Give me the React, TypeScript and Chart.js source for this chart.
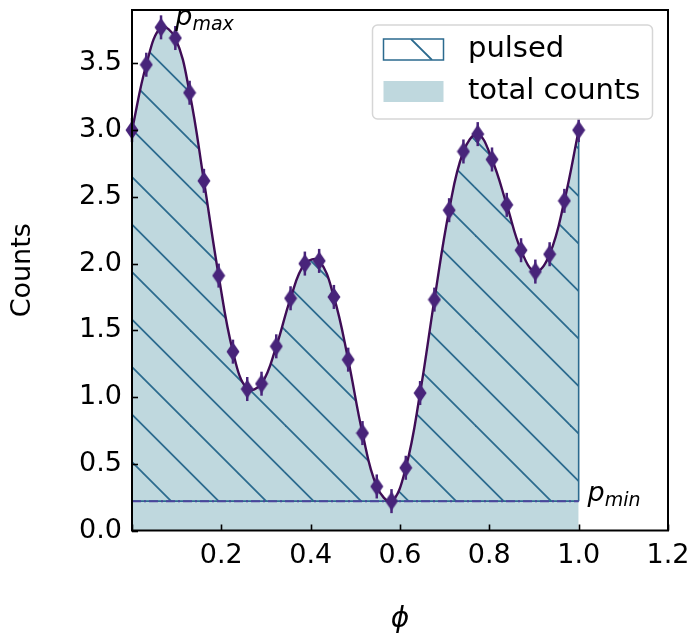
import { useEffect, useRef } from "react";
import { Chart, registerables } from "chart.js";

Chart.register(...registerables);

// ---------- data ----------
const PHASE = [
  0.0, 0.032, 0.065, 0.097, 0.129, 0.161, 0.194, 0.226, 0.258, 0.29, 0.323, 0.355,
  0.387, 0.419, 0.452, 0.484, 0.516, 0.548, 0.581, 0.613, 0.645, 0.677, 0.71, 0.742,
  0.774, 0.806, 0.839, 0.871, 0.903, 0.935, 0.968, 1.0,
];
const COUNTS = [
  3.0, 3.49, 3.77, 3.69, 3.28, 2.62, 1.91, 1.34, 1.06, 1.1, 1.38, 1.74, 2.0, 2.02,
  1.75, 1.28, 0.73, 0.33, 0.22, 0.47, 1.03, 1.73, 2.4, 2.84, 2.97, 2.78, 2.44, 2.1,
  1.94, 2.07, 2.47, 3.0,
];
const ERRORS = [
  0.09, 0.09, 0.09, 0.09, 0.09, 0.09, 0.09, 0.09, 0.09, 0.09, 0.09, 0.09, 0.09, 0.09,
  0.09, 0.09, 0.09, 0.09, 0.09, 0.09, 0.09, 0.09, 0.09, 0.09, 0.09, 0.09, 0.09, 0.09,
  0.09, 0.09, 0.09, 0.09,
];
const PMIN = 0.22;
const PMAX_LABEL_AT = { x: 0.097, y: 3.79 };
const PMIN_LABEL_AT = { x: 1.02, y: PMIN };
const X_TICKS = [0, 0.2, 0.4, 0.6, 0.8, 1.0, 1.2];
const X_TICK_LABELS = ["", "0.2", "0.4", "0.6", "0.8", "1.0", "1.2"];
const Y_TICKS = [0, 0.5, 1.0, 1.5, 2.0, 2.5, 3.0, 3.5];
const Y_TICK_LABELS = ["0.0", "0.5", "1.0", "1.5", "2.0", "2.5", "3.0", "3.5"];
const LEGEND_LABELS = ["pulsed", "total counts"];

// ---------- styles ----------
const FONT = "DejaVu Sans";
const FILL_COLOR = "#bfd8de";
const HATCH_COLOR = "#2b6a8e";
const CURVE_COLOR = "#3f0d56";
const MARKER_COLOR = "#48247a";
const PMIN_LINE_COLOR = "#4a449c";

function makeHatch(ctx: CanvasRenderingContext2D) {
  const T = 95;
  const step = 47.5;
  const c0 = 2.5;
  const cv = document.createElement("canvas");
  cv.width = T;
  cv.height = T;
  const g = cv.getContext("2d")!;
  g.strokeStyle = HATCH_COLOR;
  g.lineWidth = 1.8;
  for (let k = -5; k <= 4; k++) {
    const c = c0 + k * step;
    g.beginPath();
    g.moveTo(c - 5, -5);
    g.lineTo(c + T + 5, T + 5);
    g.stroke();
  }
  return ctx.createPattern(cv, "repeat")!;
}

function makeDiamond() {
  const cv = document.createElement("canvas");
  cv.width = 14;
  cv.height = 20;
  const g = cv.getContext("2d")!;
  g.fillStyle = MARKER_COLOR;
  g.beginPath();
  g.moveTo(7, 0.5);
  g.lineTo(13.5, 10);
  g.lineTo(7, 19.5);
  g.lineTo(0.5, 10);
  g.closePath();
  g.fill();
  return cv;
}

const decor = {
  id: "decor",
  beforeDatasetDraw(chart: any, args: any) {
    if (args.index !== 0) return;
    const { ctx, scales } = chart;
    const xs = scales.x;
    const ys = scales.y;
    ctx.save();
    ctx.strokeStyle = MARKER_COLOR;
    ctx.lineWidth = 2.5;
    PHASE.forEach((p, i) => {
      const px = xs.getPixelForValue(p);
      ctx.beginPath();
      ctx.moveTo(px, ys.getPixelForValue(COUNTS[i] - ERRORS[i]));
      ctx.lineTo(px, ys.getPixelForValue(COUNTS[i] + ERRORS[i]));
      ctx.stroke();
    });
    ctx.restore();
  },
  afterDraw(chart: any) {
    const { ctx, chartArea: a, scales } = chart;
    const xs = scales.x;
    const ys = scales.y;
    ctx.save();
    // inward ticks
    ctx.strokeStyle = "#000";
    ctx.lineWidth = 1.6;
    X_TICKS.forEach((v) => {
      const px = Math.round(xs.getPixelForValue(v)) + 0.5;
      ctx.beginPath();
      ctx.moveTo(px, a.bottom);
      ctx.lineTo(px, a.bottom - 6);
      ctx.stroke();
    });
    Y_TICKS.forEach((v) => {
      const py = Math.round(ys.getPixelForValue(v)) + 0.5;
      ctx.beginPath();
      ctx.moveTo(a.left, py);
      ctx.lineTo(a.left + 6, py);
      ctx.stroke();
    });
    // frame
    ctx.lineWidth = 2;
    ctx.strokeRect(a.left, a.top, a.right - a.left, a.bottom - a.top);

    // annotations
    ctx.fillStyle = "#000";
    ctx.textBaseline = "alphabetic";
    ctx.textAlign = "left";
    const drawP = (x: number, y: number, sub: string) => {
      ctx.font = `italic 27px "${FONT}"`;
      ctx.fillText("p", x, y);
      const w = ctx.measureText("p").width;
      ctx.font = `italic 19px "${FONT}"`;
      ctx.fillText(sub, x + w, y + 5);
    };
    drawP(xs.getPixelForValue(PMAX_LABEL_AT.x), ys.getPixelForValue(PMAX_LABEL_AT.y), "max");
    drawP(xs.getPixelForValue(PMIN_LABEL_AT.x), ys.getPixelForValue(PMIN_LABEL_AT.y), "min");

    // legend
    const lx = 372.5, ly = 25, lw = 280, lh = 94, r = 5;
    ctx.beginPath();
    ctx.moveTo(lx + r, ly);
    ctx.arcTo(lx + lw, ly, lx + lw, ly + lh, r);
    ctx.arcTo(lx + lw, ly + lh, lx, ly + lh, r);
    ctx.arcTo(lx, ly + lh, lx, ly, r);
    ctx.arcTo(lx, ly, lx + lw, ly, r);
    ctx.closePath();
    ctx.fillStyle = "rgba(255,255,255,0.85)";
    ctx.fill();
    ctx.strokeStyle = "#d6d6d6";
    ctx.lineWidth = 1.5;
    ctx.stroke();
    // pulsed patch
    const px0 = 383.5, pw = 60, ph = 21;
    ctx.fillStyle = "#fff";
    ctx.fillRect(px0, 39, pw, ph);
    ctx.save();
    ctx.beginPath();
    ctx.rect(px0, 39, pw, ph);
    ctx.clip();
    ctx.strokeStyle = HATCH_COLOR;
    ctx.lineWidth = 1.8;
    ctx.beginPath();
    ctx.moveTo(411, 39);
    ctx.lineTo(432, 60);
    ctx.stroke();
    ctx.restore();
    ctx.strokeStyle = HATCH_COLOR;
    ctx.lineWidth = 1.5;
    ctx.strokeRect(px0, 39, pw, ph);
    // total patch
    ctx.fillStyle = FILL_COLOR;
    ctx.fillRect(px0, 81, pw, ph);
    ctx.fillStyle = "#000";
    ctx.font = `29px "${FONT}"`;
    ctx.textBaseline = "middle";
    ctx.fillText(LEGEND_LABELS[0], 468, 49);
    ctx.fillText(LEGEND_LABELS[1], 468, 91);
    ctx.restore();
  },
};

export default function App() {
  const ref = useRef<HTMLCanvasElement | null>(null);
  useEffect(() => {
    const canvas = ref.current!;
    const ctx = canvas.getContext("2d")!;
    const hatch = makeHatch(ctx);
    const diamond = makeDiamond();
    const pts = PHASE.map((x, i) => ({ x, y: COUNTS[i] }));
    const last = COUNTS.length - 1;
    const chart = new Chart(ctx, {
      type: "line",
      data: {
        datasets: [
          {
            label: "markers",
            data: pts,
            showLine: false,
            pointStyle: diamond as any,
            pointRadius: 8,
            order: 0,
            clip: false as any,
          },
          {
            label: "pmin",
            data: [
              { x: PHASE[0], y: PMIN },
              { x: PHASE[last], y: PMIN },
            ],
            borderColor: PMIN_LINE_COLOR,
            borderWidth: 2,
            borderDash: [9, 3, 2, 3],
            pointRadius: 0,
            fill: false,
            order: 1,
          },
          {
            label: "edge",
            data: [
              { x: PHASE[last], y: PMIN },
              { x: PHASE[last], y: COUNTS[last] },
            ],
            borderColor: HATCH_COLOR,
            borderWidth: 1.6,
            pointRadius: 0,
            fill: false,
            order: 1,
          },
          {
            label: "pulsed",
            data: pts,
            borderColor: CURVE_COLOR,
            borderWidth: 2.4,
            tension: 0.4,
            pointRadius: 0,
            fill: { value: PMIN } as any,
            backgroundColor: hatch as any,
            order: 2,
          },
          {
            label: "pminEdge",
            data: [
              { x: PHASE[0], y: PMIN },
              { x: PHASE[last], y: PMIN },
            ],
            borderColor: HATCH_COLOR,
            borderWidth: 1.6,
            pointRadius: 0,
            fill: false,
            order: 2.5,
          },
          {
            label: "total counts",
            data: pts,
            borderWidth: 0,
            borderColor: "rgba(0,0,0,0)",
            tension: 0.4,
            pointRadius: 0,
            fill: "origin",
            backgroundColor: FILL_COLOR,
            order: 3,
          },
        ],
      },
      options: {
        responsive: false,
        animation: false,
        events: [],
        layout: { padding: { top: 10, right: 23, left: 0, bottom: 0 } },
        plugins: { legend: { display: false }, tooltip: { enabled: false } },
        scales: {
          x: {
            type: "linear",
            min: 0,
            max: 1.2,
            grid: { display: false, drawTicks: false, tickLength: 0 },
            border: { display: false },
            afterBuildTicks: (s: any) => {
              s.ticks = X_TICKS.map((v) => ({ value: v }));
            },
            afterFit: (s: any) => {
              s.height = 106.5;
              s.paddingLeft = 0;
              s.paddingRight = 0;
            },
            ticks: {
              color: "#000",
              padding: 9,
              maxRotation: 0,
              autoSkip: false,
              font: { family: FONT, size: 27 },
              callback: (_v: any, i: number) => X_TICK_LABELS[i],
            },
            title: {
              display: true,
              text: "ϕ",
              color: "#000",
              font: { family: FONT, size: 28, style: "italic" },
              padding: { top: 0, bottom: 0 },
            },
          },
          y: {
            type: "linear",
            min: 0,
            max: 3.9,
            grid: { display: false, drawTicks: false, tickLength: 0 },
            border: { display: false },
            afterBuildTicks: (s: any) => {
              s.ticks = Y_TICKS.map((v) => ({ value: v }));
            },
            afterFit: (s: any) => {
              s.width = 132;
              s.paddingTop = 0;
              s.paddingBottom = 0;
            },
            ticks: {
              color: "#000",
              padding: 10,
              autoSkip: false,
              font: { family: FONT, size: 27 },
              callback: (_v: any, i: number) => Y_TICK_LABELS[i],
            },
            title: {
              display: true,
              text: "Counts",
              color: "#000",
              font: { family: FONT, size: 27 },
              padding: { top: 7, bottom: 0 },
            },
          },
        },
      },
      plugins: [decor],
    });
    return () => chart.destroy();
  }, []);
  return (
    <div style={{ position: "absolute", left: 0, top: 0, width: 691, height: 637, background: "#fff" }}>
      <canvas ref={ref} width={691} height={637} style={{ display: "block" }} />
    </div>
  );
}
